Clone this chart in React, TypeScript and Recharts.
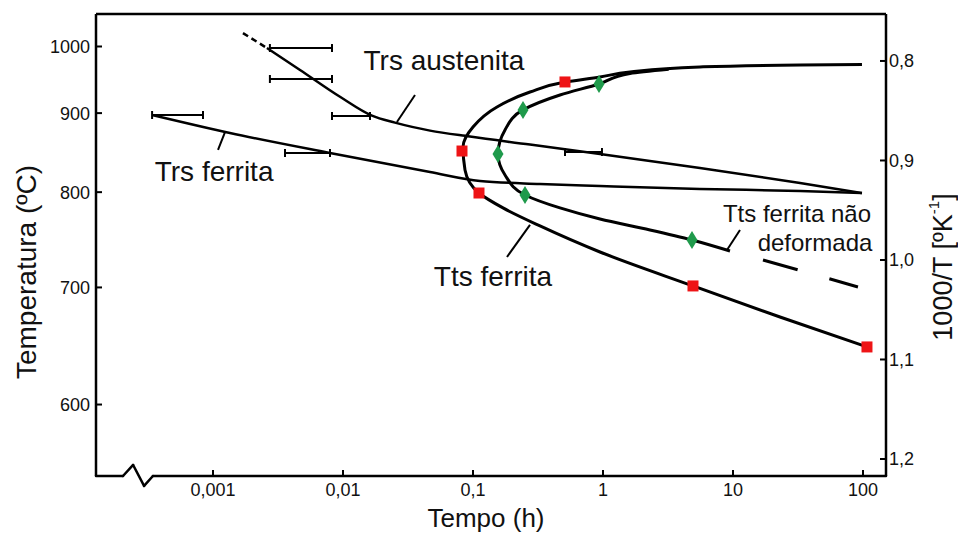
import React from "react";
import {
  ComposedChart,
  Line,
  Scatter,
  XAxis,
  YAxis,
  ReferenceLine,
  ErrorBar,
} from "recharts";

const FONT = '"Liberation Sans", Arial, Helvetica, sans-serif';
const VERMELHO = "#ee1416";
const VERDE = "#1f9a4b";

// eixos: tempo (h) em escala log, 1000/T (K^-1) invertido
const X_MIN = 1.259e-4;
const X_MAX = 150.3;
const V_TOP = 0.7528;
const V_BOTTOM = 1.2171;

const tempoTicks = [0.001, 0.01, 0.1, 1, 10, 100];
const inversoTicks = [0.8, 0.9, 1.0, 1.1, 1.2];
const temperaturaTicks = [1000, 900, 800, 700, 600];

// curvas: [tempo (h), 1000/T]
const trsAustenitaTracejada = [
  [0.0017, 0.772],
  [0.0026, 0.787],
];
const trsAustenita = [
  [0.0026, 0.787],
  [0.00467, 0.809],
  [0.00948, 0.836],
  [0.0167, 0.855],
  [0.0251, 0.862],
  [0.0467, 0.87],
  [0.0948, 0.876],
  [0.2745, 0.884],
  [0.948, 0.8935],
  [5.57, 0.9075],
  [32.8, 0.9226],
  [98.2, 0.9327],
];
const trsFerrita = [
  [0.00034, 0.8543],
  [0.00135, 0.8724],
  [0.00794, 0.8925],
  [0.0467, 0.9116],
  [0.1132, 0.9206],
  [0.3277, 0.9236],
  [0.948, 0.9256],
  [5.57, 0.9286],
  [32.8, 0.9307],
  [98.2, 0.9327],
];
const ttsFerrita = [
  [98.2, 0.8035],
  [32.8, 0.804],
  [5.57, 0.806],
  [1.613, 0.8111],
  [0.948, 0.8161],
  [0.51, 0.8211],
  [0.2745, 0.8312],
  [0.153, 0.8462],
  [0.1, 0.8663],
  [0.0838, 0.8864],
  [0.0868, 0.9095],
  [0.1112, 0.9327],
  [0.1701, 0.9477],
  [0.3277, 0.9658],
  [0.948, 0.992],
  [4.924, 1.0261],
  [22.99, 1.0573],
  [107.3, 1.0874],
];
const ttsFerritaNaoDeformada = [
  [3.2, 0.8083],
  [1.613, 0.8125],
  [0.9316, 0.8231],
  [0.4668, 0.8342],
  [0.2425, 0.8492],
  [0.1763, 0.8693],
  [0.1557, 0.8935],
  [0.1763, 0.9146],
  [0.2512, 0.9347],
  [0.4668, 0.9477],
  [0.948, 0.9588],
  [2.299, 0.9698],
  [4.837, 0.9799],
  [9.482, 0.991],
];
const ttsNaoDeformadaTracejada = [
  [17.01, 1.0],
  [91.5, 1.0271],
];

// pontos experimentais
const quadradosVermelhos = [
  [0.51, 0.8211],
  [0.0823, 0.8905],
  [0.1112, 0.9327],
  [4.924, 1.0261],
  [107.3, 1.0874],
];
const losangosVerdes = [
  [0.9316, 0.8231],
  [0.2425, 0.8492],
  [0.1557, 0.8935],
  [0.2512, 0.9347],
  [4.837, 0.9799],
];

// barras de erro horizontais: [t inicial, t final, 1000/T]
const barrasErro = [
  [0.00274, 0.00823, 0.787],
  [0.00274, 0.00823, 0.8181],
  [0.00823, 0.01614, 0.8553],
  [0.51, 0.982, 0.8915],
  [0.00034, 0.000838, 0.8543],
  [0.00358, 0.00794, 0.8925],
];

// traços que ligam rótulos às curvas
const guias = [
  [
    [0.026, 0.8613],
    [0.0358, 0.8342],
  ],
  [
    [0.001237, 0.8714],
    [0.001093, 0.8894],
  ],
  [
    [0.2745, 0.9648],
    [0.1826, 0.997],
  ],
  [
    [8.99, 0.9899],
    [11.32, 0.9698],
  ],
];

const rotulosGrandes = [
  { t: 0.0598, v: 0.8, texto: "Trs austenita" },
  { t: 0.00102, v: 0.9106, texto: "Trs ferrita" },
  { t: 0.1425, v: 1.0171, texto: "Tts ferrita" },
];
const rotulosPequenos = [
  { t: 31.07, v: 0.9528, texto: "Tts ferrita não" },
  { t: 42.74, v: 0.9829, texto: "deformada" },
];

// eixo x com quebra
const quebraEixo = [
  [X_MIN, V_BOTTOM],
  [0.000203, V_BOTTOM],
  [0.000243, 1.206],
  [0.000295, 1.2271],
  [0.000345, V_BOTTOM],
  [X_MAX, V_BOTTOM],
];

const pts = (arr: number[][]) => arr.map(([t, v]) => ({ t, v }));

const errosTabela = barrasErro.map(([a, b, v]) => {
  const t = Math.sqrt(a * b);
  return { t, v, erro: [t - a, b - t] };
});

const fmtTempo = (t: number) => String(t).replace(".", ",");
const fmtInverso = (v: number) => v.toFixed(1).replace(".", ",");
const fmtTemp = (v: number) => String(Math.round(1000 / v - 273.15));

const Quadrado = (p: any) =>
  p.cx == null ? <g /> : (
    <rect x={p.cx - 5.5} y={p.cy - 5.5} width={11} height={11} fill={VERMELHO} />
  );

const Losango = (p: any) =>
  p.cx == null ? <g /> : (
    <polygon
      points={`${p.cx},${p.cy - 9} ${p.cx + 5.5},${p.cy} ${p.cx},${p.cy + 9} ${p.cx - 5.5},${p.cy}`}
      fill={VERDE}
    />
  );

const rotulo = (size: number) => (p: any) =>
  p.cx == null ? <g /> : (
    <text
      x={p.cx}
      y={p.cy}
      textAnchor="middle"
      dominantBaseline="central"
      fontSize={size}
      fontFamily={FONT}
      fill="#111"
    >
      {p.payload.texto}
    </text>
  );

const Nada = () => <g />;

const TituloEsquerdo = (p: any) => {
  const vb = p.viewBox || { x: 0, y: 14, width: 96, height: 462 };
  const x = vb.x + 26;
  const y = vb.y + vb.height / 2 + 27;
  return (
    <text
      x={x}
      y={y}
      transform={`rotate(-90 ${x} ${y})`}
      textAnchor="middle"
      dominantBaseline="central"
      fontSize={28}
      fontFamily={FONT}
      fill="#111"
    >
      Temperatura (ºC)
    </text>
  );
};

const TituloDireito = (p: any) => {
  const vb = p.viewBox || { x: 886, y: 14, width: 72, height: 462 };
  const x = vb.x + 57;
  const y = vb.y + vb.height / 2 + 22;
  return (
    <text
      x={x}
      y={y}
      transform={`rotate(-90 ${x} ${y})`}
      textAnchor="middle"
      dominantBaseline="central"
      fontSize={27}
      fontFamily={FONT}
      fill="#111"
    >
      1000/T [ºK
      <tspan fontSize={15} dy={-10}>
        -1
      </tspan>
      <tspan dy={10}>]</tspan>
    </text>
  );
};

const TituloX = (p: any) => {
  const vb = p.viewBox || { x: 96, y: 476, width: 790, height: 58 };
  return (
    <text
      x={vb.x + vb.width / 2 - 5}
      y={vb.y + vb.height - 7}
      textAnchor="middle"
      fontSize={26}
      fontFamily={FONT}
      fill="#111"
    >
      Tempo (h)
    </text>
  );
};

const tickStyle = { fill: "#111", fontSize: 18, fontFamily: FONT };
const axisLineStyle = { stroke: "#000", strokeWidth: 2.5 };
const tickLineStyle = { stroke: "#000", strokeWidth: 2 };

export default function App() {
  const curva = (
    key: string,
    data: number[][],
    type: any,
    width: number,
    dash?: string
  ) => (
    <Line
      key={key}
      data={pts(data)}
      dataKey="v"
      yAxisId="inv"
      type={type}
      stroke="#000"
      strokeWidth={width}
      strokeDasharray={dash}
      dot={false}
      activeDot={false}
      legendType="none"
      isAnimationActive={false}
    />
  );

  return (
    <div
      style={{
        position: "absolute",
        left: 0,
        top: 0,
        width: 958,
        height: 534,
        background: "#fff",
      }}
    >
      <ComposedChart
        width={958}
        height={534}
        margin={{ top: 14, right: 0, bottom: 0, left: 0 }}
      >
        <XAxis
          dataKey="t"
          type="number"
          scale="log"
          domain={[X_MIN, X_MAX]}
          ticks={tempoTicks}
          interval={0}
          tickFormatter={fmtTempo}
          axisLine={false}
          tickLine={tickLineStyle}
          tickSize={-6}
          tickMargin={13}
          height={58}
          tick={tickStyle}
          label={(p: any) => <TituloX {...p} />}
        />
        <YAxis
          yAxisId="temp"
          orientation="left"
          type="number"
          reversed
          domain={[V_TOP, V_BOTTOM]}
          allowDataOverflow
          ticks={temperaturaTicks.map((T) => 1000 / (T + 273.15))}
          interval={0}
          tickFormatter={fmtTemp}
          width={96}
          tickSize={-6}
          tickMargin={12}
          axisLine={axisLineStyle}
          tickLine={tickLineStyle}
          tick={tickStyle}
          label={(p: any) => <TituloEsquerdo {...p} />}
        />
        <YAxis
          yAxisId="inv"
          orientation="right"
          dataKey="v"
          type="number"
          reversed
          domain={[V_TOP, V_BOTTOM]}
          allowDataOverflow
          ticks={inversoTicks}
          interval={0}
          tickFormatter={fmtInverso}
          width={72}
          tickSize={-6}
          tickMargin={9}
          axisLine={axisLineStyle}
          tickLine={tickLineStyle}
          tick={tickStyle}
          label={(p: any) => <TituloDireito {...p} />}
        />

        <ReferenceLine
          yAxisId="inv"
          segment={[
            { x: X_MIN, y: V_TOP },
            { x: X_MAX, y: V_TOP },
          ]}
          stroke="#000"
          strokeWidth={2.5}
          ifOverflow="visible"
        />
        {quebraEixo.slice(1).map((p, i) => (
          <ReferenceLine
            key={"q" + i}
            yAxisId="inv"
            segment={[
              { x: quebraEixo[i][0], y: quebraEixo[i][1] },
              { x: p[0], y: p[1] },
            ]}
            stroke="#000"
            strokeWidth={2.5}
            strokeLinecap="round"
            ifOverflow="visible"
          />
        ))}

        {curva("trsAT", trsAustenitaTracejada, "linear", 2.5, "6 4")}
        {curva("trsA", trsAustenita, "monotone", 2.5)}
        {curva("trsF", trsFerrita, "monotone", 2.5)}
        {curva("tts", ttsFerrita, "monotoneY", 3)}
        {curva("ttsN", ttsFerritaNaoDeformada, "monotoneY", 3)}
        {curva("ttsNT", ttsNaoDeformadaTracejada, "linear", 3, "36 33 30")}
        {guias.map((g, i) => curva("g" + i, g, "linear", 2))}

        <Scatter
          data={errosTabela}
          yAxisId="inv"
          shape={Nada}
          legendType="none"
          isAnimationActive={false}
        >
          <ErrorBar
            dataKey="erro"
            direction="x"
            width={4}
            stroke="#000"
            strokeWidth={2}
            isAnimationActive={false}
          />
        </Scatter>

        <Scatter
          data={pts(quadradosVermelhos)}
          yAxisId="inv"
          shape={Quadrado}
          legendType="none"
          isAnimationActive={false}
        />
        <Scatter
          data={pts(losangosVerdes)}
          yAxisId="inv"
          shape={Losango}
          legendType="none"
          isAnimationActive={false}
        />
        <Scatter
          data={rotulosGrandes}
          yAxisId="inv"
          shape={rotulo(28)}
          legendType="none"
          isAnimationActive={false}
        />
        <Scatter
          data={rotulosPequenos}
          yAxisId="inv"
          shape={rotulo(24)}
          legendType="none"
          isAnimationActive={false}
        />
      </ComposedChart>
    </div>
  );
}
